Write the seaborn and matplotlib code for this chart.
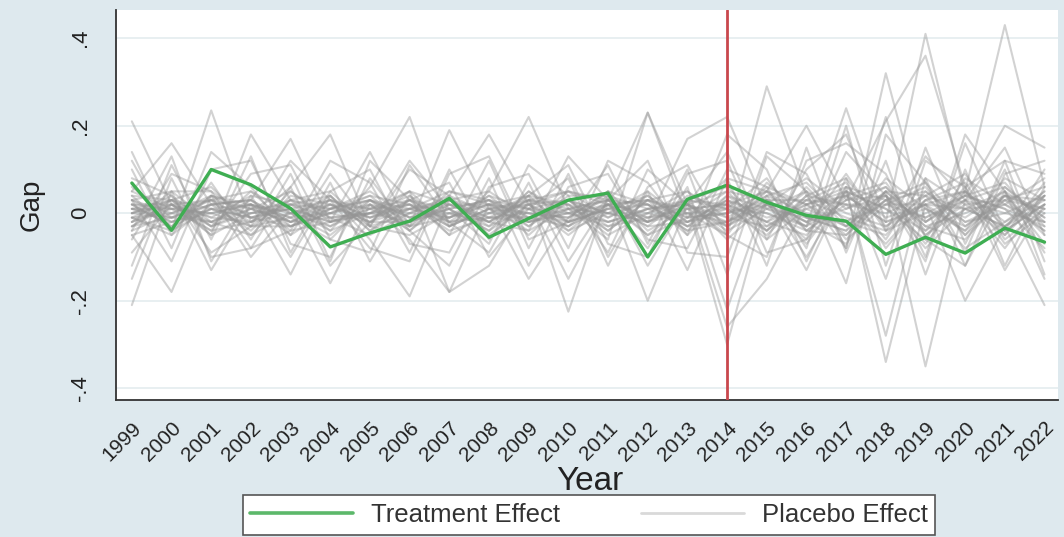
import seaborn as sns
import matplotlib.pyplot as plt
import numpy as np
import pandas as pd

# Years of the panel
years = list(range(1999, 2023))
treat_year = 2014

# Gap of the treated unit (green line)
treatment_gap = [0.069, -0.039, 0.100, 0.065, 0.011, -0.077, -0.045, -0.018, 0.034, -0.055,
                 -0.012, 0.030, 0.046, -0.100, 0.032, 0.064, 0.025, -0.005, -0.018, -0.094,
                 -0.055, -0.091, -0.034, -0.066]

# Gaps of the placebo units (grey lines)
placebo_gaps = [
    # wide ones
    [0.21, 0.02, -0.05, 0.18, 0.03, -0.04, 0.06, 0.22, -0.03, 0.05, 0.22, 0.01, -0.06, 0.23, 0.02, -0.05, 0.29, 0.04, -0.08, 0.32, -0.02, 0.05, 0.43, 0.06],
    [-0.21, 0.05, -0.13, 0.02, -0.14, 0.04, -0.06, -0.19, 0.03, -0.02, 0.04, -0.225, 0.04, -0.20, 0.02, -0.30, 0.03, -0.13, 0.06, -0.34, 0.02, -0.20, -0.03, -0.21],
    [0.05, 0.16, 0.02, 0.03, 0.17, -0.02, 0.14, -0.03, 0.19, 0.01, -0.04, 0.13, 0.03, -0.02, 0.17, 0.22, 0.01, -0.03, 0.24, -0.02, 0.41, 0.04, 0.20, 0.15],
    [-0.05, -0.18, 0.04, -0.10, 0.01, -0.16, 0.02, -0.06, -0.18, 0.02, -0.15, -0.01, 0.05, -0.12, 0.03, -0.26, -0.15, 0.02, -0.05, 0.05, -0.35, 0.03, -0.08, 0.04],
    [0.12, -0.04, 0.235, -0.02, 0.06, 0.18, -0.03, 0.10, 0.04, 0.18, 0.02, 0.05, 0.03, 0.23, -0.01, 0.08, 0.05, 0.20, 0.03, 0.21, 0.36, 0.06, 0.12, 0.09],
    [-0.15, 0.08, -0.10, -0.08, 0.06, -0.12, -0.02, 0.05, -0.18, -0.12, 0.03, -0.15, 0.02, -0.08, 0.06, -0.22, 0.04, -0.10, 0.05, -0.28, 0.08, -0.12, 0.05, -0.15],
    # medium ones
    [0.10, -0.08, 0.14, 0.06, -0.05, 0.09, -0.03, 0.12, 0.01, -0.07, 0.11, 0.04, -0.09, 0.10, 0.02, 0.14, -0.06, 0.10, 0.18, -0.04, 0.13, 0.03, 0.15, -0.05],
    [-0.12, 0.11, -0.06, 0.13, -0.09, 0.07, -0.11, 0.04, -0.05, 0.12, -0.08, 0.09, -0.10, 0.05, -0.13, 0.08, -0.12, 0.15, -0.09, 0.12, -0.14, 0.10, -0.12, 0.06],
    [0.08, 0.04, -0.09, -0.03, 0.12, 0.03, -0.08, -0.11, 0.09, 0.13, -0.06, -0.02, 0.11, -0.07, 0.10, -0.14, 0.13, 0.05, -0.16, 0.18, 0.07, -0.09, 0.12, -0.11],
    [-0.06, 0.09, 0.05, -0.08, -0.04, 0.12, 0.07, -0.09, 0.10, -0.06, 0.04, 0.11, -0.07, -0.10, 0.09, 0.12, -0.09, -0.06, 0.14, 0.04, -0.11, 0.16, -0.04, 0.10],
    [0.03, -0.11, 0.10, 0.12, -0.07, -0.10, 0.08, -0.04, -0.12, 0.06, 0.09, -0.08, 0.12, 0.07, -0.05, 0.18, 0.10, -0.11, 0.08, -0.15, 0.12, 0.06, -0.13, 0.02],
    [-0.09, 0.02, -0.04, 0.09, 0.11, -0.06, -0.09, 0.11, -0.02, -0.09, 0.07, -0.11, 0.03, 0.12, -0.09, -0.10, 0.14, 0.09, -0.08, 0.22, -0.06, -0.12, 0.09, 0.12],
    [0.14, -0.05, 0.07, -0.06, 0.09, -0.11, 0.12, 0.03, 0.07, -0.10, 0.01, 0.08, -0.12, 0.06, 0.11, -0.05, -0.10, 0.12, 0.16, 0.09, -0.10, 0.18, 0.05, -0.09],
    [-0.04, 0.13, -0.11, 0.04, -0.10, 0.05, 0.10, -0.07, -0.09, 0.08, -0.12, 0.06, 0.09, -0.06, -0.08, 0.10, 0.06, -0.08, 0.20, -0.12, 0.15, -0.07, 0.10, -0.14],
    # core ones
    [0.02, -0.03, 0.04, 0.01, -0.02, 0.03, -0.01, 0.02, -0.03, 0.01, 0.03, -0.02, 0.01, 0.04, -0.03, 0.02, 0.05, -0.04, 0.03, 0.06, -0.02, 0.04, 0.07, -0.03],
    [-0.03, 0.02, -0.01, 0.04, 0.02, -0.03, 0.03, -0.02, 0.01, -0.04, 0.02, 0.03, -0.02, 0.01, 0.02, -0.04, 0.01, 0.05, -0.06, 0.02, 0.06, -0.05, 0.03, 0.06],
    [0.05, 0.01, -0.04, -0.02, 0.03, 0.01, 0.04, -0.03, -0.01, 0.03, -0.02, 0.05, 0.02, -0.03, 0.04, 0.01, -0.05, 0.04, 0.08, -0.03, 0.04, 0.09, -0.04, 0.02],
    [-0.01, -0.05, 0.02, 0.03, -0.04, -0.02, 0.01, 0.05, 0.02, -0.02, -0.04, 0.01, 0.03, -0.05, -0.01, 0.05, 0.03, -0.02, -0.07, 0.05, -0.03, -0.06, 0.04, -0.05],
    [0.04, 0.03, 0.06, -0.03, -0.01, 0.04, -0.04, 0.01, 0.05, 0.02, 0.01, -0.03, 0.05, 0.02, -0.04, -0.02, 0.06, 0.02, 0.05, -0.06, 0.08, 0.02, -0.05, 0.07],
    [0.00, 0.04, -0.03, 0.05, 0.00, -0.05, 0.02, -0.04, 0.03, 0.05, -0.01, 0.02, -0.04, 0.03, 0.05, -0.03, 0.02, -0.06, 0.04, 0.07, -0.05, 0.03, 0.06, -0.02],
    [-0.04, 0.00, 0.03, -0.05, 0.04, 0.02, -0.02, 0.03, -0.05, 0.00, 0.04, -0.04, 0.00, 0.05, -0.02, 0.03, -0.04, 0.06, -0.03, 0.04, -0.07, 0.05, -0.03, 0.04],
    [0.03, -0.02, 0.00, 0.02, -0.05, 0.01, 0.05, -0.01, 0.03, -0.03, 0.05, 0.00, -0.03, -0.01, 0.03, 0.06, -0.03, 0.03, 0.07, -0.08, 0.03, 0.07, -0.06, 0.01],
    [-0.02, 0.05, 0.05, -0.01, 0.01, -0.04, 0.00, 0.04, -0.02, 0.04, -0.03, 0.04, 0.04, -0.02, 0.00, -0.05, 0.07, -0.01, -0.04, 0.08, 0.01, -0.04, 0.08, 0.03],
    [0.06, -0.01, 0.02, -0.04, 0.05, -0.01, -0.05, 0.00, 0.04, -0.05, 0.02, -0.05, 0.02, 0.03, -0.05, 0.04, -0.02, -0.05, 0.06, 0.03, -0.08, 0.01, 0.05, -0.07],
    [0.01, 0.03, -0.05, 0.00, 0.03, 0.05, -0.03, -0.05, 0.00, 0.02, 0.04, 0.02, -0.05, 0.00, 0.05, -0.01, 0.04, 0.07, -0.02, -0.05, 0.05, -0.02, 0.02, 0.08],
    [-0.05, -0.02, 0.01, -0.03, -0.03, 0.00, 0.04, 0.02, -0.04, -0.01, 0.00, -0.01, 0.05, -0.04, 0.01, 0.02, -0.06, 0.01, 0.04, -0.02, 0.02, -0.08, -0.02, 0.05],
    [0.03, 0.05, -0.02, -0.05, 0.00, 0.03, 0.01, -0.03, 0.05, 0.03, -0.05, 0.03, 0.00, -0.02, 0.03, -0.06, 0.02, 0.08, 0.01, 0.06, -0.04, 0.06, -0.07, 0.00],
    [-0.01, -0.04, 0.04, 0.02, -0.01, -0.06, 0.03, 0.01, -0.01, 0.04, 0.01, -0.04, 0.03, 0.02, -0.04, 0.03, 0.00, -0.03, 0.09, -0.04, 0.00, 0.04, 0.01, -0.08],
    [0.02, 0.01, 0.03, 0.05, -0.03, 0.02, -0.02, -0.02, 0.02, -0.02, 0.03, 0.05, -0.01, 0.04, -0.02, 0.01, 0.08, -0.04, -0.05, 0.03, 0.07, -0.03, 0.04, 0.03],
    [-0.03, 0.03, -0.03, 0.01, 0.05, -0.02, 0.00, 0.05, -0.03, 0.01, -0.02, 0.00, 0.02, -0.05, 0.02, 0.05, -0.04, 0.03, 0.02, -0.07, 0.03, 0.05, -0.05, 0.04],
    [0.04, -0.04, 0.01, -0.01, 0.02, 0.04, -0.04, 0.03, 0.01, -0.04, 0.05, -0.02, 0.04, 0.01, -0.03, -0.02, 0.03, -0.07, 0.05, 0.01, -0.06, 0.08, 0.02, -0.04],
    [0.00, 0.02, -0.02, 0.03, -0.02, 0.01, 0.03, -0.04, 0.04, 0.00, -0.01, 0.03, -0.04, 0.03, 0.01, -0.03, 0.05, 0.02, -0.03, 0.05, 0.04, -0.05, 0.06, -0.01],
    # tight core ones
    [0.01, -0.02, 0.02, 0.00, 0.01, -0.02, 0.02, 0.00, -0.01, 0.02, 0.00, -0.02, 0.01, 0.02, -0.01, 0.00, 0.03, -0.02, 0.01, 0.04, -0.02, 0.03, 0.00, -0.02],
    [-0.02, 0.01, 0.00, 0.02, -0.01, 0.00, -0.02, 0.01, 0.02, -0.01, -0.02, 0.01, 0.00, -0.02, 0.02, -0.01, -0.03, 0.02, 0.04, -0.02, 0.01, -0.03, 0.03, 0.01],
    [0.03, 0.00, -0.02, 0.01, 0.02, -0.01, 0.00, -0.02, 0.01, 0.03, 0.01, 0.00, -0.02, 0.01, 0.03, 0.01, 0.00, -0.04, 0.02, 0.00, 0.04, 0.01, -0.03, 0.02],
    [0.00, -0.01, 0.03, -0.02, 0.00, 0.02, 0.01, 0.03, -0.02, 0.00, 0.02, -0.03, 0.02, 0.00, -0.02, 0.03, -0.01, 0.01, -0.03, 0.03, -0.01, 0.04, 0.01, -0.03],
    [-0.01, 0.03, 0.01, -0.01, -0.03, 0.01, 0.03, -0.01, 0.00, -0.02, 0.03, 0.02, -0.01, 0.03, 0.00, -0.02, 0.04, 0.00, -0.02, 0.05, -0.03, 0.00, 0.04, 0.00],
    [0.02, 0.02, -0.03, 0.00, 0.01, 0.03, -0.01, 0.01, 0.03, -0.01, -0.01, 0.01, 0.03, -0.01, 0.01, 0.02, -0.02, 0.05, 0.00, -0.03, 0.02, 0.05, -0.02, 0.03],
    [-0.03, -0.01, 0.02, 0.03, -0.02, -0.01, 0.00, 0.02, -0.03, 0.01, 0.00, -0.01, 0.02, -0.03, -0.02, 0.00, 0.02, -0.02, 0.05, 0.01, -0.04, 0.02, 0.03, -0.04],
    [0.01, 0.01, 0.00, -0.03, 0.03, 0.00, 0.02, -0.03, 0.02, 0.02, -0.03, 0.03, 0.00, 0.02, -0.03, 0.04, 0.01, -0.01, -0.04, 0.03, 0.05, -0.02, 0.00, 0.04],
    [0.02, -0.03, 0.01, 0.02, 0.00, -0.03, 0.01, 0.02, 0.00, -0.03, 0.01, 0.03, -0.03, 0.01, 0.02, -0.03, 0.03, 0.03, -0.01, -0.04, 0.03, -0.01, 0.05, -0.01],
    [-0.02, 0.02, 0.03, 0.01, -0.02, 0.02, -0.03, 0.00, 0.03, 0.01, 0.02, -0.02, 0.01, -0.01, 0.00, 0.01, -0.04, 0.04, 0.02, 0.02, -0.01, 0.03, -0.04, 0.02],
    [0.00, 0.03, -0.01, -0.02, 0.02, 0.01, -0.01, 0.03, -0.01, 0.02, -0.02, 0.00, 0.03, -0.02, 0.02, -0.02, 0.02, -0.03, 0.03, 0.04, -0.05, 0.01, 0.02, -0.02],
    [0.01, -0.01, -0.02, 0.02, -0.03, 0.00, 0.03, -0.01, 0.01, 0.03, -0.01, -0.03, 0.02, 0.03, -0.01, 0.00, 0.05, -0.01, -0.02, 0.02, 0.02, -0.04, 0.04, 0.01],
    [-0.01, 0.00, 0.04, -0.01, 0.01, -0.02, 0.00, 0.01, -0.02, -0.01, 0.03, 0.01, -0.02, 0.00, 0.03, 0.02, -0.02, 0.02, 0.06, -0.01, 0.02, 0.01, -0.03, 0.05],
]

y_ticks = [-0.4, -0.2, 0, 0.2, 0.4]
y_tick_labels = ['-.4', '-.2', '0', '.2', '.4']

# Long table for seaborn
placebo_df = pd.DataFrame(
    [(u, yr, g) for u, row in enumerate(placebo_gaps) for yr, g in zip(years, row)],
    columns=['unit', 'year', 'gap'])
treat_df = pd.DataFrame({'year': years, 'gap': treatment_gap})

sns.set_style('white')
plt.rcParams['font.family'] = ['Liberation Sans', 'DejaVu Sans']

bg = '#dee9ee'
fig = plt.figure(figsize=(10.64, 5.37), dpi=100, facecolor=bg)
ax = fig.add_axes([0.109, 0.255, 0.885, 0.726])
ax.set_facecolor('white')

# grid first so lines sit on top
for t in y_ticks:
    ax.axhline(t, color='#e6eef0', lw=1.3, zorder=0)

sns.lineplot(data=placebo_df, x='year', y='gap', units='unit', estimator=None,
             color='#959595', alpha=0.42, lw=1.5, ax=ax, legend=False)
sns.lineplot(data=treat_df, x='year', y='gap', color='#3fae52', lw=2.4, ax=ax,
             legend=False, zorder=5)
ax.axvline(treat_year, color='#c9474d', lw=2.0, zorder=6)

ax.set_xlim(1998.6, 2022.33)
ax.set_ylim(-0.427, 0.464)
ax.set_xticks(years)
ax.set_xticklabels([str(y) for y in years], rotation=45, ha='right',
                   rotation_mode='anchor', fontsize=15, color='#222222')
ax.set_yticks(y_ticks)
ax.set_yticklabels(y_tick_labels, rotation=90, va='center', fontsize=16, color='#222222')
ax.tick_params(axis='both', length=9, width=1.3, color='#555555', direction='out')
ax.tick_params(axis='y', pad=9)
ax.tick_params(axis='x', pad=4)

for side in ['top', 'right']:
    ax.spines[side].set_visible(False)
for side in ['left', 'bottom']:
    ax.spines[side].set_color('#333333')
    ax.spines[side].set_linewidth(1.3)

ax.set_xlabel('Year', fontsize=24, color='#222222')
ax.set_ylabel('Gap', fontsize=20, color='#222222')
ax.xaxis.set_label_coords(0.503, -0.17)
ax.yaxis.set_label_coords(-0.076, 0.5)

# legend box under the plot
handles = [plt.Line2D([], [], color='#5cb86a', lw=2.6),
           plt.Line2D([], [], color='#d9d9d9', lw=2.0)]
leg = fig.legend(handles, ['Treatment Effect', 'Placebo Effect'], loc='lower left',
                 bbox_to_anchor=(0.228, 0.004, 0.651, 0.07), mode='expand', ncol=2,
                 fontsize=18.5, handlelength=4.0, handletextpad=0.7, borderpad=0.3,
                 borderaxespad=0, fancybox=False, framealpha=1, facecolor='white',
                 edgecolor='#555555')
leg.get_frame().set_linewidth(1.2)
for txt in leg.get_texts():
    txt.set_color('#333333')

fig.savefig('out.png', dpi=100, facecolor=bg)
